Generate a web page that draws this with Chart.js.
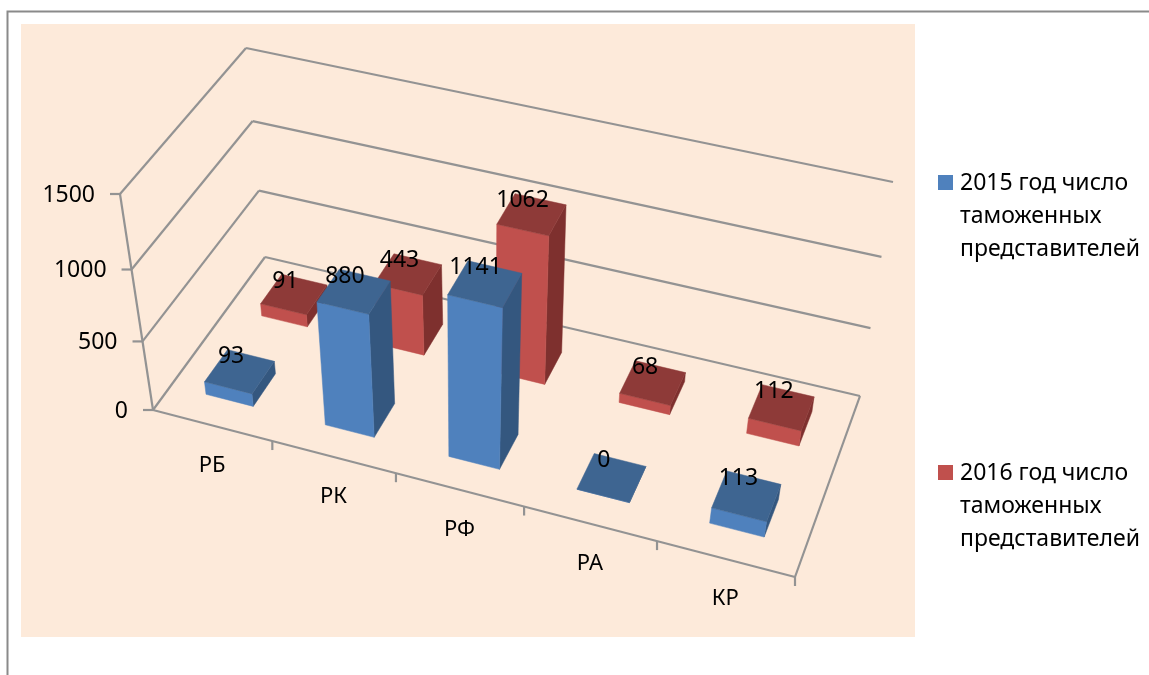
<!DOCTYPE html>
<html lang="ru">
<head>
<meta charset="UTF-8">
<title>Таможенные представители</title>
<style>
html, body { margin: 0; padding: 0; background: #fff; }
canvas { display: block; }
</style>
</head>
<body>
<canvas id="chart" width="1149" height="675" style="width:1149px;height:675px"></canvas>
<script src="https://cdn.jsdelivr.net/npm/chart.js@4"></script>
<script>
const categories = ['РБ', 'РК', 'РФ', 'РА', 'КР']
const values2015 = [93, 880, 1141, 0, 113]
const values2016 = [91, 443, 1062, 68, 112]
const seriesNames = ['2015 год число таможенных представителей', '2016 год число таможенных представителей']
const legendLines = [['2015 год число', 'таможенных', 'представителей'], ['2016 год число', 'таможенных', 'представителей']]

const FONT = '"Noto Sans", sans-serif'
const LINE = '#939393'
const faces = [
    { front: '#4f81bd', top: '#3e6591', side: '#34577f' },
    { front: '#c0504d', top: '#8e3a38', side: '#7e302e' }
]
const depthRange = [[0.15, 0.35], [0.65, 0.85]]

// corners of the 3D box: front-left, front-right, back-right, back-left
const floorQuad = [[153, 410], [795, 577], [860, 396], [265, 257]]
const roofQuad = [[120, 194], [836, 361], [893, 182], [246, 48]]

function quadMap(q, u, d) {
    const [p0, p1, p2, p3] = q
    const sx = p0[0] - p1[0] + p2[0] - p3[0], sy = p0[1] - p1[1] + p2[1] - p3[1]
    const x1 = p1[0] - p2[0], y1 = p1[1] - p2[1], x2 = p3[0] - p2[0], y2 = p3[1] - p2[1]
    const den = x1 * y2 - y1 * x2
    const g = (sx * y2 - sy * x2) / den, h = (x1 * sy - y1 * sx) / den
    const w = 1 + g * u + h * d
    return [
        (p0[0] + (p1[0] * (1 + g) - p0[0]) * u + (p3[0] * (1 + h) - p0[0]) * d) / w,
        (p0[1] + (p1[1] * (1 + g) - p0[1]) * u + (p3[1] * (1 + h) - p0[1]) * d) / w
    ]
}

// s is 0..1 up the value axis, slightly squeezed because the top is nearer the camera
function project(u, d, s) {
    const a = quadMap(floorQuad, u, d), b = quadMap(roofQuad, u, d)
    const t = s / (1 + 0.075 * (1 - s))
    return [a[0] + (b[0] - a[0]) * t, a[1] + (b[1] - a[1]) * t]
}

function poly(ctx, pts, fill) {
    ctx.beginPath()
    pts.forEach((p, i) => i ? ctx.lineTo(p[0], p[1]) : ctx.moveTo(p[0], p[1]))
    ctx.closePath()
    ctx.fillStyle = fill
    ctx.fill()
    ctx.strokeStyle = fill
    ctx.lineWidth = 0.5
    ctx.stroke()
}

function seg(ctx, a, b) {
    ctx.beginPath()
    ctx.moveTo(a[0], a[1])
    ctx.lineTo(b[0], b[1])
    ctx.stroke()
}

const box3d = {
    id: 'box3d',
    beforeDraw(chart) {
        const ctx = chart.ctx
        ctx.save()
        ctx.fillStyle = '#fdeada'
        ctx.fillRect(21, 24, 894, 613)
        ctx.strokeStyle = '#8a8a8a'
        ctx.lineWidth = 2
        ctx.beginPath()
        ctx.moveTo(7.5, 675)
        ctx.lineTo(7.5, 11.5)
        ctx.lineTo(1149, 11.5)
        ctx.stroke()
        ctx.restore()
    },
    beforeDatasetsDraw(chart) {
        const ctx = chart.ctx, area = chart.chartArea, yScale = chart.scales.y, xScale = chart.scales.x
        ctx.save()
        ctx.strokeStyle = LINE
        ctx.lineWidth = 2.2
        ctx.lineJoin = 'round'

        // walls and value axis
        ctx.font = '23px ' + FONT
        ctx.textBaseline = 'middle'
        ctx.textAlign = 'right'
        yScale.ticks.forEach(tick => {
            const s = (area.bottom - yScale.getPixelForValue(tick.value)) / area.height
            const fl = project(0, 0, s), bl = project(0, 1, s), br = project(1, 1, s)
            seg(ctx, fl, bl)
            seg(ctx, bl, br)
            seg(ctx, fl, [fl[0] - 10, fl[1]])
            ctx.fillStyle = '#000'
            ctx.fillText(String(tick.value), fl[0] - 25, fl[1] + 1)
        })
        seg(ctx, project(0, 0, 0), project(0, 0, 1))

        // floor edges and category axis
        seg(ctx, project(0, 0, 0), project(1, 0, 0))
        seg(ctx, project(1, 0, 0), project(1, 1, 0))
        ctx.textAlign = 'center'
        ctx.font = '22px ' + FONT
        categories.forEach((name, i) => {
            const u0 = (xScale.getPixelForValue(i) - area.left) / area.width
            const step = 1 / categories.length
            const t = project(u0 + step / 2, 0, 0)
            seg(ctx, t, [t[0], t[1] + 9])
            const c = project(u0, 0, 0)
            ctx.fillStyle = '#000'
            ctx.fillText(name, c[0], c[1] + 40)
        })

        // back series first, so the front bars cover it
        const labels = []
        for (let ds = chart.data.datasets.length - 1; ds >= 0; ds--) {
            chart.getDatasetMeta(ds).data.forEach((el, i) => {
                const u0 = (el.x - el.width / 2 - area.left) / area.width
                const u1 = (el.x + el.width / 2 - area.left) / area.width
                const s = (el.base - el.y) / area.height
                const [d0, d1] = depthRange[ds]
                const c = faces[ds]
                poly(ctx, [project(u1, d0, 0), project(u1, d1, 0), project(u1, d1, s), project(u1, d0, s)], c.side)
                poly(ctx, [project(u0, d0, 0), project(u1, d0, 0), project(u1, d0, s), project(u0, d0, s)], c.front)
                poly(ctx, [project(u0, d0, s), project(u1, d0, s), project(u1, d1, s), project(u0, d1, s)], c.top)
                const p = project(u0, d1, s)
                labels.push({ text: String(chart.data.datasets[ds].data[i]), x: p[0] + 3 + 10 * u0, y: p[1] + 7 })
            })
        }

        ctx.font = '23px ' + FONT
        ctx.fillStyle = '#000'
        ctx.textBaseline = 'middle'
        ctx.textAlign = 'center'
        labels.forEach(l => ctx.fillText(l.text, l.x, l.y))

        // legend
        const legendTop = [183, 473]
        ctx.textAlign = 'left'
        ctx.font = '23px ' + FONT
        legendLines.forEach((lines, k) => {
            ctx.fillStyle = faces[k].front
            ctx.fillRect(938, legendTop[k] - 8, 15, 15)
            ctx.fillStyle = '#000'
            lines.forEach((line, n) => ctx.fillText(line, 960, legendTop[k] + n * 33))
        })
        ctx.restore()
        return false
    }
}

Chart.defaults.devicePixelRatio = 1
new Chart(document.getElementById('chart'), {
    type: 'bar',
    data: {
        labels: categories,
        datasets: [
            { label: seriesNames[0], data: values2015, backgroundColor: faces[0].front, grouped: false, barPercentage: 0.4, categoryPercentage: 1 },
            { label: seriesNames[1], data: values2016, backgroundColor: faces[1].front, grouped: false, barPercentage: 0.4, categoryPercentage: 1 }
        ]
    },
    options: {
        responsive: false,
        animation: false,
        devicePixelRatio: 1,
        plugins: { legend: { display: false }, tooltip: { enabled: false } },
        scales: {
            x: { display: false },
            y: { display: false, min: 0, max: 1500, ticks: { stepSize: 500 } }
        }
    },
    plugins: [box3d]
})
</script>
</body>
</html>
